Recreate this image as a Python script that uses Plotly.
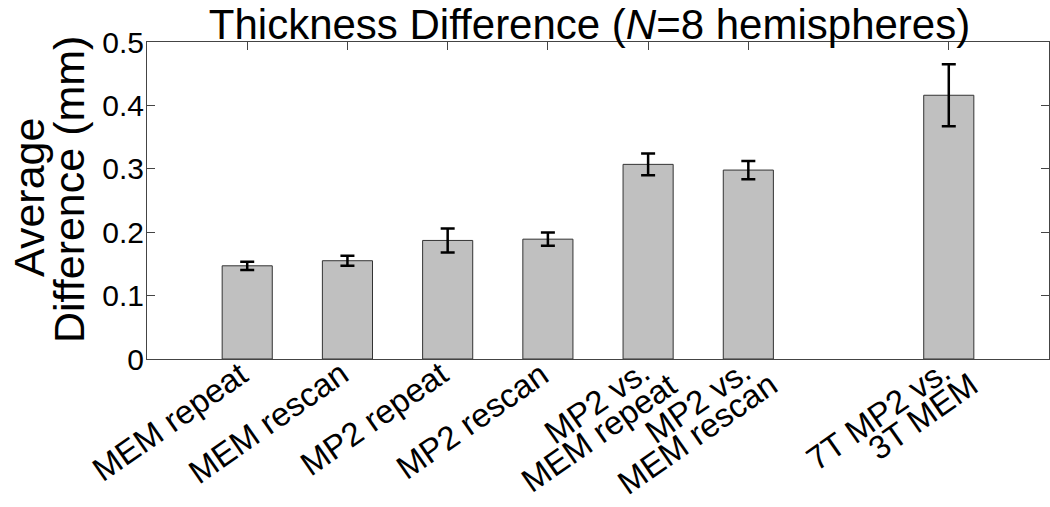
import plotly.graph_objects as go

categories = ["MEM repeat", "MEM rescan", "MP2 repeat", "MP2 rescan",
              "MP2 vs.<br>MEM repeat", "MP2 vs.<br>MEM rescan", "7T MP2 vs.<br>3T MEM"]
slots = [1, 2, 3, 4, 5, 6, 8]
avg_diff = [0.147, 0.155, 0.187, 0.189, 0.307, 0.298, 0.416]
sem = [0.0065, 0.008, 0.019, 0.0105, 0.017, 0.0145, 0.049]
y_ticks = [0, 0.1, 0.2, 0.3, 0.4, 0.5]
title_text = "Thickness Difference (<i>N</i>=8 hemispheres)"
ylabel_lines = ["Average", "Difference (mm)"]

FONT = "Liberation Sans, Arial, sans-serif"
W, H = 1050, 507
L, R, T, B = 147, 1, 42, 148
PW, PH = W - L - R, H - T - B
X_RANGE = [0, 9]
PX_PER_X = PW / (X_RANGE[1] - X_RANGE[0])
LABEL_ANGLE = -35

fig = go.Figure()
fig.add_trace(go.Bar(
    x=slots, y=avg_diff, width=0.5,
    marker=dict(color="#C0C0C0", line=dict(color="#333333", width=1)),
    error_y=dict(type="data", array=sem, visible=True, color="black",
                 thickness=2.5, width=7),
    showlegend=False,
))

fig.update_layout(
    width=W, height=H,
    margin=dict(l=L, r=R, t=T, b=B, autoexpand=False),
    plot_bgcolor="white", paper_bgcolor="white",
    font=dict(family=FONT, color="black"),
    title=dict(text=title_text, x=589.5 / W, xanchor="center",
               y=1 - 39 / H, yanchor="bottom", yref="container",
               font=dict(size=42, family=FONT, color="black")),
)

# two-line y-axis label, rotated
for (cx, cy), line in zip([(29, 198), (69, 190)], ylabel_lines):
    fig.add_annotation(
        text=line, textangle=-90, showarrow=False,
        xref="paper", yref="paper",
        x=(cx - L) / PW, xanchor="center",
        y=(T + PH - cy) / PH, yanchor="middle",
        font=dict(size=43, family=FONT, color="black"),
    )

# rotated category labels (each line placed like the original's stacked text)
for s, cat in zip(slots, categories):
    lines = cat.split("<br>")
    offs = [(10, 352)] if len(lines) == 1 else [(11, 349), (38, 363)]
    for (dx, top), line in zip(offs, lines):
        fig.add_annotation(
            text=line, textangle=LABEL_ANGLE, showarrow=False,
            xref="x", yref="paper",
            x=s + dx / PX_PER_X, xanchor="right",
            y=(T + PH - top) / PH, yanchor="top",
            font=dict(size=33, family=FONT, color="black"),
        )

fig.update_xaxes(
    range=X_RANGE, tickvals=slots, showticklabels=False,
    ticks="inside", ticklen=8, tickcolor="#444444",
    showline=True, linecolor="#444444", linewidth=1, mirror="ticks",
    showgrid=False, zeroline=False, layer="below traces", automargin=False,
)
fig.update_yaxes(
    range=[0, 0.5], tickvals=y_ticks, ticktext=[("%g" % v) for v in y_ticks],
    ticks="inside", ticklen=8, tickcolor="#444444",
    showline=True, linecolor="#444444", linewidth=1, mirror="ticks",
    showgrid=False, zeroline=False, automargin=False, ticklabelstandoff=-4,
    tickfont=dict(size=30, family=FONT, color="black"),
)

fig.write_html("out.html", config={"displayModeBar": False},
               post_script="document.body.style.margin='0';")
